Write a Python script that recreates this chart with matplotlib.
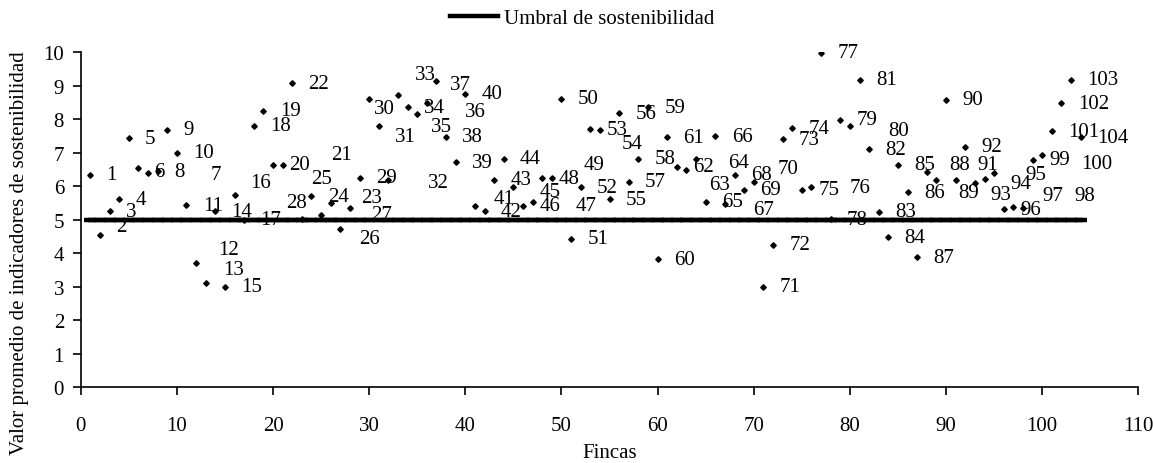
import matplotlib
matplotlib.use("Agg")
import matplotlib.pyplot as plt

# ---- data ----
fincas = list(range(1, 105))
valores = [6.34, 4.56, 5.26, 5.61, 7.43, 6.54, 6.40, 6.45, 7.69, 7.00,
           5.44, 3.71, 3.11, 5.25, 3.00, 5.74, 5.00, 7.81, 8.25, 6.64,
           6.64, 9.08, 5.02, 5.70, 5.14, 5.50, 4.73, 5.35, 6.25, 8.61,
           7.81, 6.19, 8.73, 8.36, 8.16, 8.49, 9.15, 7.48, 6.72, 8.76,
           5.42, 5.25, 6.20, 6.82, 5.97, 5.42, 5.52, 6.24, 6.24, 8.61,
           4.43, 5.97, 7.71, 7.69, 5.62, 8.18, 6.14, 6.82, 8.36, 3.83,
           7.46, 6.59, 6.50, 6.82, 5.54, 7.49, 5.47, 6.34, 5.90, 6.12,
           3.00, 4.25, 7.41, 7.73, 5.90, 5.97, 9.98, 5.02, 7.98, 7.81,
           9.18, 7.11, 5.24, 4.48, 6.65, 5.82, 3.88, 6.42, 6.20, 8.58,
           6.20, 7.18, 6.09, 6.22, 6.39, 5.32, 5.37, 5.34, 6.80, 6.92,
           7.64, 8.48, 9.18, 7.46]
etiquetas = [str(f) for f in fincas]
umbral = 5.0
umbral_nombre = "Umbral de sostenibilidad"
x_ticks = list(range(0, 111, 10))
y_ticks = list(range(0, 11))
x_label = "Fincas"
y_label = "Valor promedio de indicadores de sostenibilidad"

# ---- label layout (offsets in data units) ----
default_dx, default_dy = 1.7, 0.0
label_offsets = {
    2: (1.7, 0.25), 6: (1.6, -0.1), 7: (6.5, -0.05), 12: (2.3, 0.4),
    13: (1.8, 0.4), 16: (1.66, 0.38), 21: (5.0, 0.3), 23: (6.2, 0.65),
    25: (-1.05, 1.1), 26: (3.0, -1.07), 27: (3.2, 0.44), 28: (-6.6, 0.17),
    30: (0.5, -0.28), 31: (1.7, -0.32), 32: (4.1, -0.07), 33: (1.8, 0.6),
    35: (1.4, -0.37), 36: (4.0, -0.25), 37: (1.4, -0.1), 41: (1.9, 0.22),
    45: (2.7, -0.13), 47: (4.5, -0.08), 49: (3.3, 0.41), 54: (2.3, -0.4),
    63: (2.35, -0.46), 64: (3.3, -0.12), 67: (2.9, -0.15), 70: (2.5, 0.4),
    76: (4.0, 0.0), 80: (4.0, -0.15), 88: (2.3, 0.23), 89: (2.3, -0.38),
    91: (2.3, 0.45), 93: (1.6, -0.32), 94: (2.7, -0.15), 95: (3.2, -0.04),
    97: (3.0, 0.37), 98: (5.3, 0.4), 100: (4.1, -0.25),
}

plt.rcParams['font.family'] = ['Liberation Serif', 'DejaVu Serif']
FS = 15

fig = plt.figure(figsize=(11.53, 4.64), dpi=100)
ax = fig.add_axes([0.070, 0.1631, 0.9873 - 0.070, 0.8851 - 0.1631])

# threshold line
ax.plot([fincas[0], fincas[-1]], [umbral, umbral], color='black', lw=3.2,
        solid_capstyle='projecting', label=umbral_nombre, zorder=2)
ax.plot(fincas, [umbral] * len(fincas), linestyle='none', marker='_',
        markersize=9, markeredgewidth=3.2, color='black', zorder=2)

# points
ax.plot(fincas, valores, linestyle='none', marker='D', markersize=2.8,
        color='black', zorder=3)

for f, v, t in zip(fincas, valores, etiquetas):
    dx, dy = label_offsets.get(f, (default_dx, default_dy))
    ax.text(f + dx, v + dy, t, ha='left', va='center', fontsize=FS, zorder=4)

ax.set_xlim(0, 110)
ax.set_ylim(0, 10)
ax.set_xticks(x_ticks)
ax.set_yticks(y_ticks)
ax.tick_params(axis='both', direction='out', length=6, width=1.2,
               labelsize=FS, color='black')
ax.tick_params(axis='x', pad=15)
ax.tick_params(axis='y', pad=6)
for s in ['top', 'right']:
    ax.spines[s].set_visible(False)
for s in ['left', 'bottom']:
    ax.spines[s].set_linewidth(1.2)

ax.set_xlabel(x_label, fontsize=FS)
ax.xaxis.set_label_coords(0.5, -0.166)
fig.text(20 / 1153, 1 - 253 / 464, y_label, rotation=90,
         ha='center', va='center', fontsize=FS)

fig.legend(loc='center', bbox_to_anchor=(0.505, 0.958), frameon=False,
           fontsize=FS, handlelength=2.3, handletextpad=0.3)

fig.savefig('out.png', dpi=100)
